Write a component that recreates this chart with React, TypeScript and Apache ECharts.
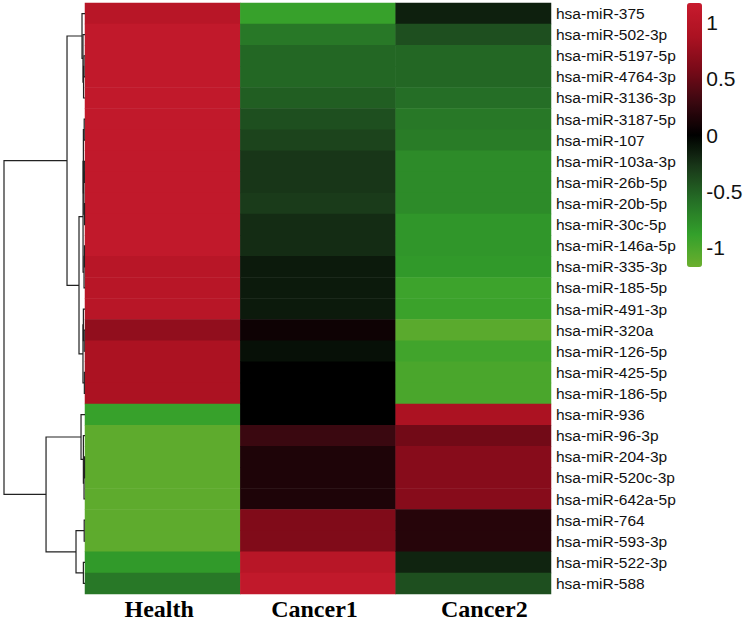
import React, { useEffect, useRef } from "react";
import * as echarts from "echarts";

const rowNames = [
  "hsa-miR-375", "hsa-miR-502-3p", "hsa-miR-5197-5p", "hsa-miR-4764-3p", "hsa-miR-3136-3p",
  "hsa-miR-3187-5p", "hsa-miR-107", "hsa-miR-103a-3p", "hsa-miR-26b-5p", "hsa-miR-20b-5p",
  "hsa-miR-30c-5p", "hsa-miR-146a-5p", "hsa-miR-335-3p", "hsa-miR-185-5p", "hsa-miR-491-3p",
  "hsa-miR-320a", "hsa-miR-126-5p", "hsa-miR-425-5p", "hsa-miR-186-5p", "hsa-miR-936",
  "hsa-miR-96-3p", "hsa-miR-204-3p", "hsa-miR-520c-3p", "hsa-miR-642a-5p", "hsa-miR-764",
  "hsa-miR-593-3p", "hsa-miR-522-3p", "hsa-miR-588",
];

const columns = ["Health", "Cancer1", "Cancer2"];

const health = [
  1.0, 1.1, 1.1, 1.1, 1.1, 1.1, 1.1, 1.1, 1.1, 1.1, 1.1, 1.1, 1.0, 1.0, 1.0,
  0.72, 0.88, 0.88, 0.88, -0.9, -1.1, -1.1, -1.1, -1.1, -1.1, -1.1, -0.84, -0.64,
];
const cancer1 = [
  -0.9, -0.64, -0.54, -0.54, -0.49, -0.41, -0.345, -0.27, -0.27, -0.3, -0.22, -0.22, -0.13, -0.13, -0.13,
  0.07, -0.08, 0, 0, 0, 0.29, 0.15, 0.15, 0.15, 0.62, 0.62, 1.0, 1.1,
];
const cancer2 = [
  -0.16, -0.41, -0.54, -0.54, -0.58, -0.64, -0.66, -0.75, -0.75, -0.75, -0.815, -0.815, -0.835, -0.93, -0.92,
  -1.08, -0.95, -1.0, -1.0, 0.88, 0.55, 0.66, 0.66, 0.66, 0.19, 0.19, -0.18, -0.41,
];

// hierarchical clustering linkage: [childA, childB, height]; ids >= 28 refer to earlier merges
const linkage: [number, number, number][] = [
  [2, 3, 0.12],   // 28
  [28, 4, 0.18],  // 29
  [1, 29, 0.25],  // 30
  [0, 30, 0.37],  // 31
  [5, 6, 0.1],    // 32
  [7, 8, 0.08],   // 33
  [9, 10, 0.06],  // 34
  [33, 34, 0.14], // 35
  [32, 35, 0.2],  // 36
  [11, 12, 0.07], // 37
  [37, 13, 0.12], // 38
  [36, 38, 0.24], // 39
  [15, 16, 0.1],  // 40
  [14, 40, 0.2],  // 41
  [17, 18, 0.08], // 42
  [41, 42, 0.25], // 43
  [39, 43, 0.74], // 44
  [31, 44, 2.22], // 45
  [21, 22, 0.06], // 46
  [46, 23, 0.12], // 47
  [20, 47, 0.2],  // 48
  [19, 48, 0.49], // 49
  [24, 25, 0.1],  // 50
  [26, 27, 0.2],  // 51
  [50, 51, 1.11], // 52
  [49, 52, 4.81], // 53
  [45, 53, 10],   // 54
];

const colorTicks = [-1, -0.5, 0, 0.5, 1];
const scaleMin = -1.17;
const scaleMax = 1.17;
const scaleColors = [
  "#6BAF2E", "#33A02B", "#256F26", "#1A3A1A", "#000000", "#3A0810", "#7A0A18", "#AC1222", "#C81B2E",
];

function buildHeatData() {
  const cols = [health, cancer1, cancer2];
  const out: number[][] = [];
  cols.forEach((arr, ci) => arr.forEach((v, ri) => out.push([ci, ri, v])));
  return out;
}

function buildDendro() {
  const n = rowNames.length;
  const pos: { y: number; h: number }[] = [];
  for (let i = 0; i < n; i++) pos.push({ y: i, h: 0 });
  const segs: number[][] = [];
  linkage.forEach(([a, b, h]) => {
    const pa = pos[a];
    const pb = pos[b];
    segs.push([pa.h, pa.y, h, pb.y, pb.h]);
    pos.push({ y: (pa.y + pb.y) / 2, h });
  });
  return segs;
}

export default function App() {
  const ref = useRef<HTMLDivElement>(null);
  useEffect(() => {
    if (!ref.current) return;
    const chart = echarts.init(ref.current, null, { renderer: "svg" });
    const labelFont = {
      fontFamily: "Liberation Serif",
      fontWeight: "bold" as const,
      fontSize: 24,
      color: "#000",
    };
    chart.setOption({
      animation: false,
      backgroundColor: "#ffffff",
      grid: [
        { left: 85, top: 3, width: 466, height: 591 },
        { left: 4, top: 3, width: 81, height: 591 },
        { left: 702, top: 3, width: 1, height: 264 },
      ],
      xAxis: [
        {
          type: "category",
          gridIndex: 0,
          data: columns,
          axisLine: { show: false },
          axisTick: { show: false },
          splitLine: { show: false },
          axisLabel: {
            margin: 3,
            interval: 0,
            hideOverlap: false,
            ...labelFont,
            formatter: (v: string, i: number) => `{c${i}|${v}}`,
            rich: {
              c0: { ...labelFont, padding: [0, 7, 0, 0] },
              c1: { ...labelFont, padding: [0, 7, 0, 0] },
              c2: { ...labelFont, padding: [0, 0, 0, 22] },
            },
          },
        },
        {
          type: "value",
          gridIndex: 1,
          min: 0,
          max: 10,
          inverse: true,
          show: false,
        },
        { type: "value", gridIndex: 2, show: false },
      ],
      yAxis: [
        {
          type: "category",
          gridIndex: 0,
          data: rowNames,
          inverse: true,
          position: "right",
          axisLine: { show: false },
          axisTick: { show: false },
          splitLine: { show: false },
          axisLabel: {
            margin: 5,
            interval: 0,
            fontFamily: "Liberation Sans",
            fontSize: 15.5,
            color: "#111",
          },
        },
        {
          type: "value",
          gridIndex: 1,
          min: -0.5,
          max: rowNames.length - 0.5,
          inverse: true,
          show: false,
        },
        {
          type: "value",
          gridIndex: 2,
          min: scaleMin,
          max: scaleMax,
          position: "right",
          axisLine: { show: false },
          axisTick: { show: false },
          splitLine: { show: false },
          axisLabel: {
            margin: 4,
            customValues: colorTicks,
            fontFamily: "Liberation Sans",
            fontSize: 21,
            color: "#111",
          },
        },
      ],
      visualMap: {
        type: "continuous",
        min: scaleMin,
        max: scaleMax,
        seriesIndex: 0,
        calculable: false,
        orient: "vertical",
        left: 687,
        top: 3,
        itemWidth: 15,
        itemHeight: 264,
        padding: 0,
        text: ["", ""],
        inRange: { color: scaleColors },
      },
      series: [
        {
          type: "heatmap",
          xAxisIndex: 0,
          yAxisIndex: 0,
          data: buildHeatData(),
          itemStyle: { borderWidth: 0 },
          emphasis: { disabled: true },
        },
        {
          type: "custom",
          xAxisIndex: 1,
          yAxisIndex: 1,
          data: buildDendro(),
          clip: false,
          silent: true,
          renderItem: (params: any, api: any) => {
            const hA = api.value(0);
            const yA = api.value(1);
            const h = api.value(2);
            const yB = api.value(3);
            const hB = api.value(4);
            const p1 = api.coord([hA, yA]);
            const p2 = api.coord([h, yA]);
            const p3 = api.coord([h, yB]);
            const p4 = api.coord([hB, yB]);
            return {
              type: "polyline",
              shape: { points: [p1, p2, p3, p4] },
              style: { stroke: "#222", lineWidth: 1.2, fill: null },
            };
          },
        },
      ],
    });
    return () => chart.dispose();
  }, []);
  return (
    <div
      ref={ref}
      style={{ position: "fixed", left: 0, top: 0, width: 744, height: 621 }}
    />
  );
}
